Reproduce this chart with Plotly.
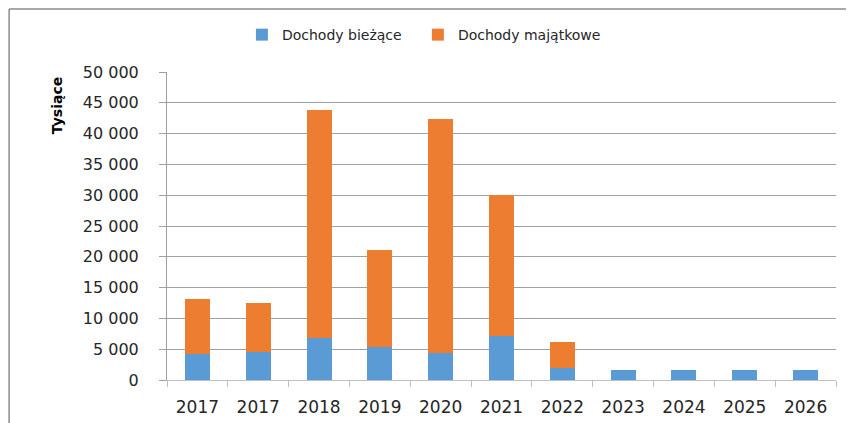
import plotly.graph_objects as go

years = ["2017", "2017", "2018", "2019", "2020", "2021", "2022", "2023", "2024", "2025", "2026"]
biezace = [4300, 4600, 6900, 5300, 4400, 7200, 1950, 1700, 1700, 1700, 1700]
majatkowe = [8800, 7900, 37000, 15800, 38000, 22900, 4150, 0, 0, 0, 0]

# positions as category keys, because "2017" appears twice
keys = [str(i) for i in range(len(years))]

FONT = "DejaVu Sans"

fig = go.Figure()
fig.add_trace(go.Bar(x=keys, y=biezace, name="Dochody bieżące", marker_color="#5B9BD5",
                     marker_line_width=0, legend="legend"))
fig.add_trace(go.Bar(x=keys, y=majatkowe, name="Dochody majątkowe", marker_color="#ED7D31",
                     marker_line_width=0, legend="legend2"))

leg = dict(orientation="h", y=1.12, xanchor="left", yanchor="middle",
           font=dict(size=14), itemwidth=30)

# page body adds an 8px offset, margins compensate for it
fig.update_layout(
    barmode="stack",
    bargap=0.59,
    width=854,
    height=423,
    margin=dict(l=159, r=26, t=64, b=51, autoexpand=False),
    plot_bgcolor="white",
    paper_bgcolor="white",
    separators=", ",
    font=dict(family=FONT, color="#262626"),
    showlegend=True,
    legend=dict(leg, x=0.112),
    legend2=dict(leg, x=0.375),
)
fig.update_xaxes(
    type="category",
    tickmode="array",
    tickvals=keys,
    ticktext=years,
    tickson="boundaries",
    ticks="outside",
    ticklen=6,
    tickcolor="#BFBFBF",
    showline=True,
    linecolor="#BFBFBF",
    linewidth=1,
    showgrid=False,
    automargin=False,
    tickfont=dict(size=17),
    ticklabelstandoff=12,
)
fig.update_yaxes(
    range=[0, 50000],
    dtick=5000,
    tickformat=",d",
    ticks="outside",
    ticklen=7,
    tickcolor="#A0A0A0",
    showline=True,
    linecolor="#A0A0A0",
    showgrid=True,
    gridcolor="#A0A0A0",
    gridwidth=1,
    zeroline=False,
    automargin=False,
    tickfont=dict(size=16),
    ticklabelstandoff=17,
)
fig.add_annotation(text="<b>Tysiące</b>", textangle=-90, x=-0.164, y=0.89,
                   xref="paper", yref="paper", xanchor="center", yanchor="middle",
                   showarrow=False, font=dict(family=FONT, size=14, color="#000000"))

# chart area border (top and left edges visible)
fig.add_shape(type="line", xref="paper", yref="paper", x0=-0.236, x1=1.05, y0=1.2045, y1=1.2045,
              line=dict(color="#8C8C8C", width=1.5))
fig.add_shape(type="line", xref="paper", yref="paper", x0=-0.236, x1=-0.236, y0=1.2045, y1=-0.2,
              line=dict(color="#8C8C8C", width=1.5))

fig.write_html("out.html")
